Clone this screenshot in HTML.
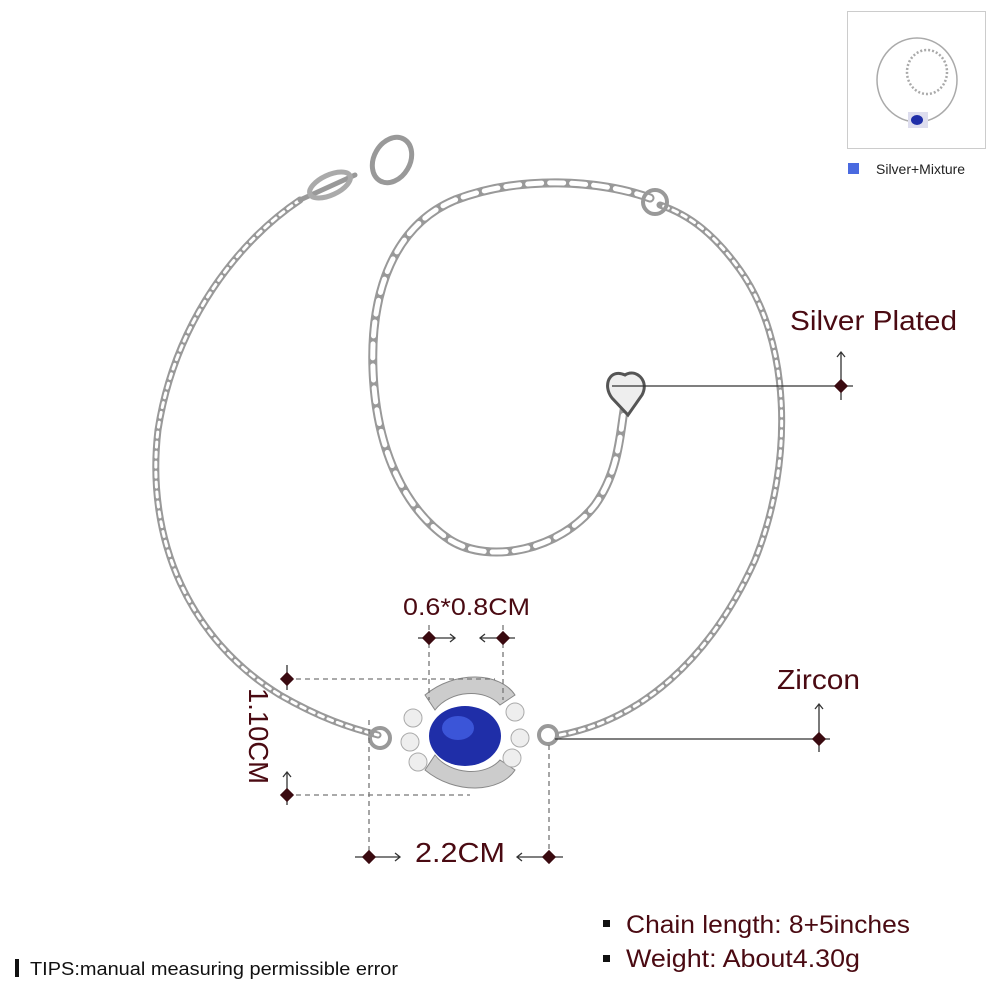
<!DOCTYPE html>
<html><head><meta charset="utf-8"><style>
html,body{margin:0;padding:0;background:#fff;}
svg{display:block}
text{font-family:"Liberation Sans",sans-serif}
</style></head><body>
<svg width="1000" height="1000" viewBox="0 0 1000 1000" xmlns="http://www.w3.org/2000/svg">
<defs>
<g id="dm"><rect x="-5" y="-5" width="10" height="10" fill="#3a0a10" transform="rotate(45)"/></g>
</defs>
<g fill="none" stroke-linecap="round">
<path d="M300,200 C240,240 175,320 158,430 C145,540 190,640 280,695 C320,718 350,728 378,735" stroke="#999" stroke-width="7"/>
<path d="M300,200 C240,240 175,320 158,430 C145,540 190,640 280,695 C320,718 350,728 378,735" stroke="#fff" stroke-width="3" stroke-dasharray="5 5"/>
<path d="M560,735 C640,720 710,660 755,560 C795,460 790,340 740,270 C715,235 690,215 660,205" stroke="#999" stroke-width="7"/>
<path d="M560,735 C640,720 710,660 755,560 C795,460 790,340 740,270 C715,235 690,215 660,205" stroke="#fff" stroke-width="3" stroke-dasharray="5 5"/>
<path d="M650,198 C600,180 520,175 455,200 C395,225 370,290 373,370 C376,450 405,510 450,540 C490,565 560,550 595,505 C620,470 620,430 625,405" stroke="#999" stroke-width="9"/>
<path d="M650,198 C600,180 520,175 455,200 C395,225 370,290 373,370 C376,450 405,510 450,540 C490,565 560,550 595,505 C620,470 620,430 625,405" stroke="#fff" stroke-width="5" stroke-dasharray="14 8"/>
<ellipse cx="392" cy="160" rx="18" ry="24" stroke="#999" stroke-width="5" transform="rotate(30 392 160)"/>
<path d="M300,200 L355,175" stroke="#999" stroke-width="5"/>
<ellipse cx="330" cy="185" rx="22" ry="10" stroke="#aaa" stroke-width="5" transform="rotate(-25 330 185)"/>
<circle cx="655" cy="202" r="12" stroke="#999" stroke-width="4"/>
<path d="M625,375 C610,368 602,385 612,398 L628,415 L642,395 C650,380 635,368 625,375 Z" stroke="#555" stroke-width="3" fill="#eee"/>
<circle cx="380" cy="738" r="10" stroke="#999" stroke-width="4"/>
<circle cx="548" cy="735" r="9" stroke="#999" stroke-width="4"/>
</g>
<g>
<path d="M425,695 C455,670 500,672 515,695 L500,705 C485,688 450,690 435,710 Z" fill="#ccc" stroke="#888"/>
<path d="M425,770 C455,795 500,793 515,770 L500,760 C485,777 450,775 435,755 Z" fill="#ccc" stroke="#888"/>
<circle cx="413" cy="718" r="9" fill="#eee" stroke="#aaa"/>
<circle cx="410" cy="742" r="9" fill="#eee" stroke="#aaa"/>
<circle cx="418" cy="762" r="9" fill="#eee" stroke="#aaa"/>
<circle cx="515" cy="712" r="9" fill="#eee" stroke="#aaa"/>
<circle cx="520" cy="738" r="9" fill="#eee" stroke="#aaa"/>
<circle cx="512" cy="758" r="9" fill="#eee" stroke="#aaa"/>
<ellipse cx="465" cy="736" rx="36" ry="30" fill="#1f2ea8"/>
<ellipse cx="458" cy="728" rx="16" ry="12" fill="#3b55d8"/>
</g>
<g stroke="#777" stroke-width="1.3" stroke-dasharray="5 4" fill="none">
<line x1="287" y1="679" x2="495" y2="679"/>
<line x1="287" y1="795" x2="470" y2="795"/>
<line x1="429" y1="625" x2="429" y2="700"/>
<line x1="503" y1="625" x2="503" y2="700"/>
<line x1="369" y1="720" x2="369" y2="860"/>
<line x1="549" y1="745" x2="549" y2="860"/>
</g>
<g stroke="#333" stroke-width="1.3" fill="none">
<line x1="287" y1="665" x2="287" y2="690"/>
<line x1="287" y1="772" x2="287" y2="805"/><path d="M283,777 L287,772 L291,777"/>
<line x1="418" y1="638" x2="455" y2="638"/><path d="M450,634 L455,638 L450,642"/>
<line x1="480" y1="638" x2="515" y2="638"/><path d="M485,634 L480,638 L485,642"/>
<line x1="355" y1="857" x2="400" y2="857"/><path d="M395,853 L400,857 L395,861"/>
<line x1="517" y1="857" x2="563" y2="857"/><path d="M522,853 L517,857 L522,861"/>
<line x1="612" y1="386" x2="853" y2="386"/>
<line x1="841" y1="352" x2="841" y2="400"/><path d="M837,357 L841,352 L845,357"/>
<line x1="555" y1="739" x2="830" y2="739"/>
<line x1="819" y1="704" x2="819" y2="752"/><path d="M815,709 L819,704 L823,709"/>
</g>
<use href="#dm" x="287" y="679"/><use href="#dm" x="287" y="795"/>
<use href="#dm" x="429" y="638"/><use href="#dm" x="503" y="638"/>
<use href="#dm" x="369" y="857"/><use href="#dm" x="549" y="857"/>
<use href="#dm" x="841" y="386"/><use href="#dm" x="819" y="739"/>
<g fill="#4a0a12">
<text x="403" y="615" font-size="24" textLength="127" lengthAdjust="spacingAndGlyphs">0.6*0.8CM</text>
<text x="415" y="862" font-size="28" textLength="90" lengthAdjust="spacingAndGlyphs">2.2CM</text>
<text x="0" y="0" font-size="28" textLength="96" lengthAdjust="spacingAndGlyphs" transform="translate(249,688) rotate(90)">1.10CM</text>
<text x="790" y="330" font-size="28" textLength="167" lengthAdjust="spacingAndGlyphs">Silver Plated</text>
<text x="777" y="689" font-size="28" textLength="83" lengthAdjust="spacingAndGlyphs">Zircon</text>
<text x="626" y="933" font-size="25" textLength="284" lengthAdjust="spacingAndGlyphs">Chain length: 8+5inches</text>
<text x="626" y="967" font-size="25" textLength="234" lengthAdjust="spacingAndGlyphs">Weight: About4.30g</text>
</g>
<rect x="603" y="920" width="7" height="7" fill="#111"/>
<rect x="603" y="955" width="7" height="7" fill="#111"/>
<rect x="15" y="959" width="4" height="18" fill="#111"/>
<text x="30" y="975" font-size="18" fill="#111" textLength="368" lengthAdjust="spacingAndGlyphs">TIPS:manual measuring permissible error</text>
<rect x="847.5" y="11.5" width="138" height="137" fill="#fff" stroke="#ccc"/>
<g fill="none" stroke="#aaa" stroke-width="1.5">
<ellipse cx="917" cy="80" rx="40" ry="42"/>
<ellipse cx="927" cy="72" rx="20" ry="22" stroke-dasharray="2 2" stroke-width="2.5"/>
</g>
<rect x="908" y="112" width="20" height="16" fill="#dde"/>
<ellipse cx="917" cy="120" rx="6" ry="5" fill="#1f2ea8"/>
<rect x="848" y="163" width="11" height="11" fill="#4a6ae0"/>
<text x="876" y="174" font-size="14" fill="#222">Silver+Mixture</text>
</svg>
</body></html>
